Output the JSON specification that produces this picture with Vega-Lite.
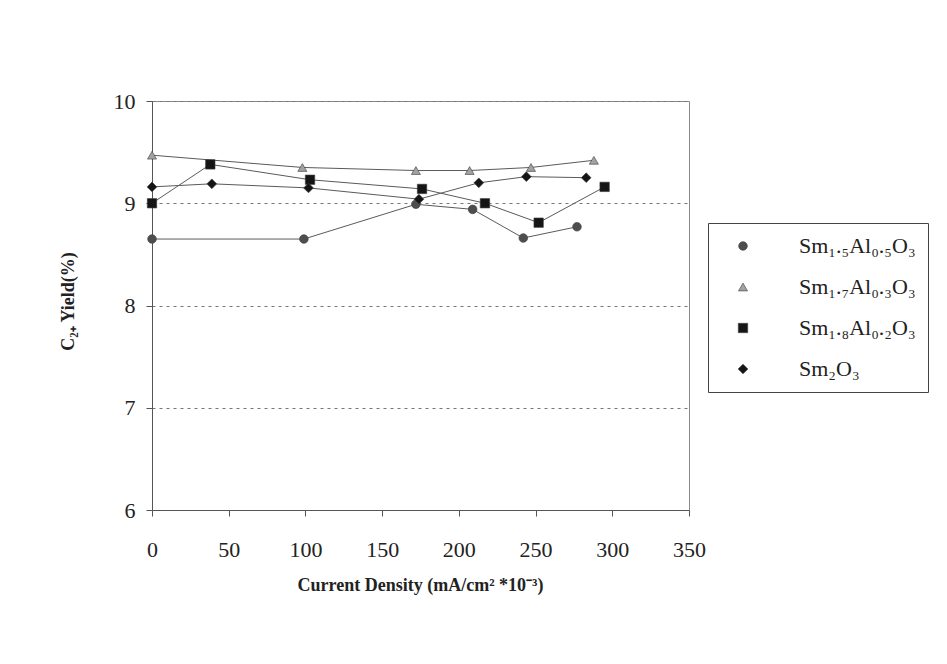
{
  "$schema": "https://vega.github.io/schema/vega-lite/v6.json",
  "autosize": {"type": "none"},
  "padding": {"left": 152, "top": 101, "right": 258, "bottom": 154},
  "width": 537,
  "height": 409,
  "background": "white",
  "config": {
    "view": {"stroke": "#8a8a8a", "strokeWidth": 1},
    "font": "Liberation Serif"
  },
  "data": {
    "values": [
      {"series": "Sm₁.₅Al₀.₅O₃", "density": 0, "yield": 8.65},
      {"series": "Sm₁.₅Al₀.₅O₃", "density": 99, "yield": 8.65},
      {"series": "Sm₁.₅Al₀.₅O₃", "density": 172, "yield": 8.99},
      {"series": "Sm₁.₅Al₀.₅O₃", "density": 209, "yield": 8.94},
      {"series": "Sm₁.₅Al₀.₅O₃", "density": 242, "yield": 8.66},
      {"series": "Sm₁.₅Al₀.₅O₃", "density": 277, "yield": 8.77},
      {"series": "Sm₁.₇Al₀.₃O₃", "density": 0, "yield": 9.47},
      {"series": "Sm₁.₇Al₀.₃O₃", "density": 98, "yield": 9.35},
      {"series": "Sm₁.₇Al₀.₃O₃", "density": 172, "yield": 9.32},
      {"series": "Sm₁.₇Al₀.₃O₃", "density": 207, "yield": 9.32},
      {"series": "Sm₁.₇Al₀.₃O₃", "density": 247, "yield": 9.35},
      {"series": "Sm₁.₇Al₀.₃O₃", "density": 288, "yield": 9.42},
      {"series": "Sm₁.₈Al₀.₂O₃", "density": 0, "yield": 9.0},
      {"series": "Sm₁.₈Al₀.₂O₃", "density": 38, "yield": 9.38},
      {"series": "Sm₁.₈Al₀.₂O₃", "density": 103, "yield": 9.23},
      {"series": "Sm₁.₈Al₀.₂O₃", "density": 176, "yield": 9.14},
      {"series": "Sm₁.₈Al₀.₂O₃", "density": 217, "yield": 9.0},
      {"series": "Sm₁.₈Al₀.₂O₃", "density": 252, "yield": 8.81},
      {"series": "Sm₁.₈Al₀.₂O₃", "density": 295, "yield": 9.16},
      {"series": "Sm₂O₃", "density": 0, "yield": 9.16},
      {"series": "Sm₂O₃", "density": 39, "yield": 9.19},
      {"series": "Sm₂O₃", "density": 102, "yield": 9.15},
      {"series": "Sm₂O₃", "density": 174, "yield": 9.04},
      {"series": "Sm₂O₃", "density": 213, "yield": 9.2},
      {"series": "Sm₂O₃", "density": 244, "yield": 9.26},
      {"series": "Sm₂O₃", "density": 283, "yield": 9.25}
    ]
  },
  "layer": [
    {
      "mark": {"type": "line", "color": "#5a5a5a", "strokeWidth": 1},
      "encoding": {
        "x": {
          "field": "density", "type": "quantitative",
          "scale": {"domain": [0, 350], "nice": false, "zero": false},
          "axis": {
            "values": [0, 50, 100, 150, 200, 250, 300, 350],
            "grid": false,
            "domainColor": "#555", "tickColor": "#555", "tickSize": 6,
            "labelFont": "Liberation Serif", "labelFontSize": 22, "labelColor": "#222",
            "labelPadding": 23, "labelFlush": false, "labelOverlap": false,
            "title": "Current Density (mA/cm² *10⁻³)",
            "titleFont": "Liberation Serif", "titleFontSize": 18, "titleFontWeight": "bold",
            "titleColor": "#222",
            "titleX": 268, "titleY": 80, "titleAlign": "center", "titleBaseline": "alphabetic"
          }
        },
        "y": {
          "field": "yield", "type": "quantitative",
          "scale": {"domain": [6, 10], "nice": false, "zero": false},
          "axis": {
            "values": [6, 7, 8, 9, 10],
            "format": "d",
            "grid": true, "gridColor": "#777", "gridDash": [3, 4], "gridWidth": 1,
            "domainColor": "#555", "tickColor": "#555", "tickSize": 6,
            "labelFont": "Liberation Serif", "labelFontSize": 22, "labelColor": "#222",
            "labelPadding": 11, "labelFlush": false,
            "title": "C₂₊ Yield(%)",
            "titleFont": "Liberation Serif", "titleFontSize": 18, "titleFontWeight": "bold",
            "titleColor": "#222",
            "titleX": -84, "titleY": 200, "titleAngle": -90,
            "titleAlign": "center", "titleBaseline": "middle"
          }
        },
        "detail": {"field": "series", "type": "nominal"}
      }
    },
    {
      "mark": {"type": "point", "filled": true, "opacity": 1, "stroke": "#3a3a3a", "strokeWidth": 0.6},
      "encoding": {
        "x": {"field": "density", "type": "quantitative"},
        "y": {"field": "yield", "type": "quantitative"},
        "shape": {
          "field": "series", "type": "nominal",
          "scale": {
            "domain": ["Sm₁.₅Al₀.₅O₃", "Sm₁.₇Al₀.₃O₃", "Sm₁.₈Al₀.₂O₃", "Sm₂O₃"],
            "range": ["circle", "triangle-up", "square", "diamond"]
          },
          "legend": null
        },
        "color": {
          "field": "series", "type": "nominal",
          "scale": {
            "domain": ["Sm₁.₅Al₀.₅O₃", "Sm₁.₇Al₀.₃O₃", "Sm₁.₈Al₀.₂O₃", "Sm₂O₃"],
            "range": ["#4e4e4e", "#a2a2a2", "#151515", "#151515"]
          },
          "legend": {
            "orient": "none", "legendX": 556, "legendY": 122,
            "title": null,
            "strokeColor": "#444", "fillColor": "white", "padding": 12,
            "symbolOffset": 12,
            "symbolStrokeWidth": 0.6, "symbolStrokeColor": "#3a3a3a",
            "rowPadding": 19, "labelOffset": 45,
            "labelFont": "Liberation Serif", "labelFontSize": 22, "labelColor": "#222",
            "labelLimit": 300
          }
        },
        "size": {
          "field": "series", "type": "nominal",
          "scale": {
            "domain": ["Sm₁.₅Al₀.₅O₃", "Sm₁.₇Al₀.₃O₃", "Sm₁.₈Al₀.₂O₃", "Sm₂O₃"],
            "range": [75, 95, 100, 85]
          },
          "legend": null
        }
      }
    }
  ]
}
